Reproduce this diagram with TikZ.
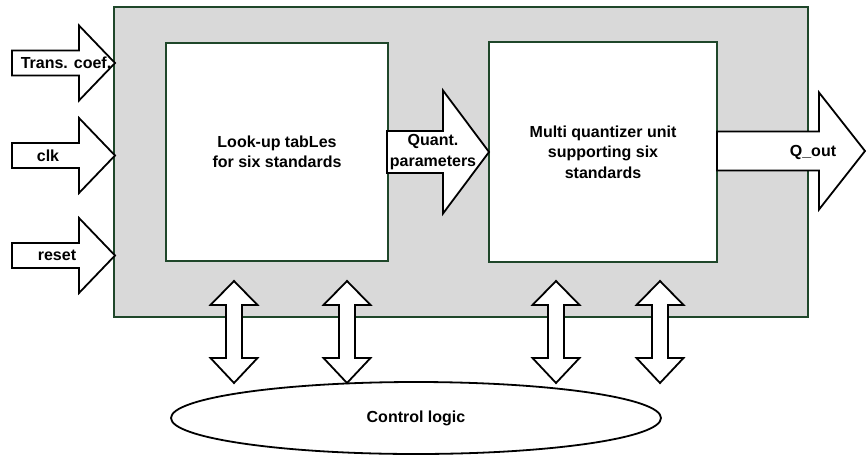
\documentclass[tikz,border=0pt]{standalone}
\usepackage{fontspec}
\setmainfont{Liberation Sans}
\usetikzlibrary{shapes.geometric}
\definecolor{boxgreen}{RGB}{31,71,42}
\definecolor{panelgray}{RGB}{217,217,217}
% horizontal block arrow: x start, x head base, x tip, y centre, body half, head half
\newcommand\hblockarrow[6]{%
  \draw[blockarrow] (#1,#4-#5) -- (#2,#4-#5) -- (#2,#4-#6) -- (#3,#4)
    -- (#2,#4+#6) -- (#2,#4+#5) -- (#1,#4+#5) -- cycle;}
% vertical double block arrow centred at x
\newcommand\vdblarrow[1]{%
  \draw[blockarrow] (#1,281) -- (#1+23.5,305) -- (#1+8,305) -- (#1+8,358)
    -- (#1+23.5,358) -- (#1,383) -- (#1-23.5,358) -- (#1-8,358)
    -- (#1-8,305) -- (#1-23.5,305) -- cycle;}
\begin{document}
\begin{tikzpicture}[x=1pt,y=-1pt,
  lbl/.style={font=\fontsize{16}{20.5}\selectfont\bfseries, align=center, inner sep=0pt},
  blockarrow/.style={draw=black, line width=1.8pt, fill=white, line join=miter},
  panel/.style={draw=boxgreen, line width=2pt, fill=panelgray, inner sep=0pt},
  unitbox/.style={draw=boxgreen, line width=2pt, fill=white, inner sep=0pt, align=center,
    font=\fontsize{16}{20.5}\selectfont\bfseries},
  ctrlshape/.style={ellipse, draw=black, line width=1.8pt, fill=white, inner sep=0pt,
    font=\fontsize{16}{20.5}\selectfont\bfseries}]
\useasboundingbox (0,0) rectangle (866,455);
% outer panel
\node[panel, minimum width=694pt, minimum height=310pt] (chip) at (461,162) {};
% inner units
\node[unitbox, minimum width=222pt, minimum height=218pt] (lut) at (277,152)
  {Look-up tabLes\\for six standards};
\node[unitbox, minimum width=228pt, minimum height=220pt] (mq) at (603,152)
  {Multi quantizer unit\\supporting six\\standards};
% control logic
\node[ctrlshape, minimum width=490pt, minimum height=72pt] (ctrl) at (416,418) {Control logic};
% input arrows
\hblockarrow{12}{79}{115}{63}{12.5}{37.5}
\hblockarrow{12}{79}{115}{155.5}{12.5}{37.5}
\hblockarrow{12}{79}{115}{255.5}{12.5}{37.5}
\node[lbl] (ltrans) at (66,63) {Trans. coef.};
\node[lbl] (lclk) at (48,155.5) {clk};
\node[lbl] (lreset) at (57,255.5) {reset};
% quant parameters arrow
\hblockarrow{387}{443}{489}{152}{21}{61.5}
\node[lbl] (lquant) at (433,152) {Quant.\\parameters};
% output arrow
\hblockarrow{717}{819}{865}{151}{19.5}{58.5}
\node[lbl] (lqout) at (813,152) {Q\_out};
% control double arrows
\vdblarrow{234}
\vdblarrow{347}
\vdblarrow{556}
\vdblarrow{660}
\end{tikzpicture}
\end{document}
